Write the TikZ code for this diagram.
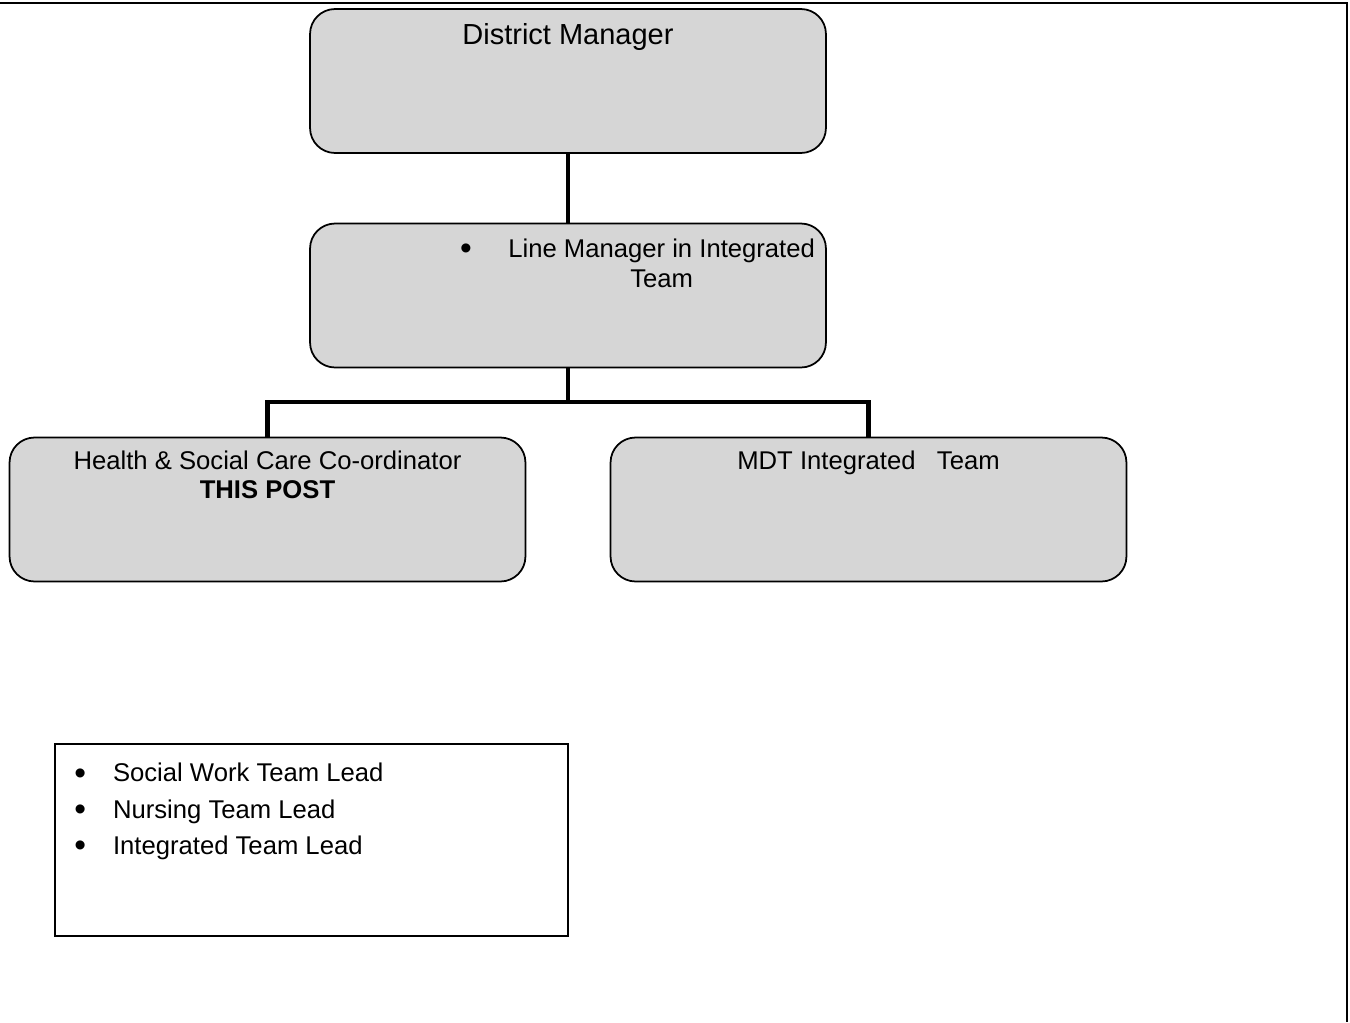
\documentclass[tikz,border=0pt]{standalone}
\usepackage{fontspec}
\setmainfont{Liberation Sans}
\usetikzlibrary{positioning}
\definecolor{boxfill}{HTML}{D6D6D6}
\newcommand\bigbullet{\raisebox{-1.2pt}{\fontsize{19}{19}\selectfont\textbullet}}

\begin{document}
\begin{tikzpicture}[
  x=0.02cm, y=-0.02cm,
  post/.style={draw, rounded corners=0.5cm, line width=1pt, fill=boxfill,
    minimum width=10.32cm, minimum height=2.88cm, inner sep=0pt},
  link/.style={line width=2.8pt},
  txt/.style={font=\fontsize{14.6}{16.5}\selectfont, inner sep=0pt, align=center},
  big/.style={font=\fontsize{16.5}{19}\selectfont, inner sep=0pt}
]
\useasboundingbox (0,0) rectangle (1350,1022);

% page frame
\draw[line width=1.2pt] (0,3) -- (1347,3) -- (1347,1022);

% posts
\node[post] (dm) at (568,81) {};
\node[post] (lm) at (568,295.5) {};
\node[post] (hsc) at (267.5,509.5) {};
\node[post] (mdt) at (868.5,509.5) {};

\node[big, below=0.3cm of dm.north] (dmtext) {District Manager};
\node[txt, anchor=base] (lmdot) at (466,257) {\bigbullet};
\node[txt, anchor=north west, font=\fontsize{14.6}{17}\selectfont] (lmtext) at (508,239)
  {Line Manager in Integrated\\Team};
\node[txt, below=0.28cm of hsc.north] (hsctext)
  {Health \& Social Care Co-ordinator\\\textbf{THIS POST}};
\node[txt, below=0.28cm of mdt.north] (mdttext) {MDT Integrated\ \ \ Team};

% reporting lines
\coordinate (bar) at (568,402);
\draw[link] (dm.south) -- (lm.north);
\draw[link] (lm.south) -- (bar) -| (hsc.north);
\draw[link] (bar) -| (mdt.north);

% team leads
\node[draw, line width=0.8pt, minimum width=10.26cm, minimum height=3.84cm,
  inner sep=0pt] (leadbox) at (311.5,840) {};
\node[txt, align=left, anchor=north west, font=\fontsize{14.6}{20.7}\selectfont]
  (leads) at (74,763)
  {\bigbullet\hspace{0.54cm}Social Work Team Lead\\
   \bigbullet\hspace{0.54cm}Nursing Team Lead\\
   \bigbullet\hspace{0.54cm}Integrated Team Lead};
\end{tikzpicture}
\end{document}
